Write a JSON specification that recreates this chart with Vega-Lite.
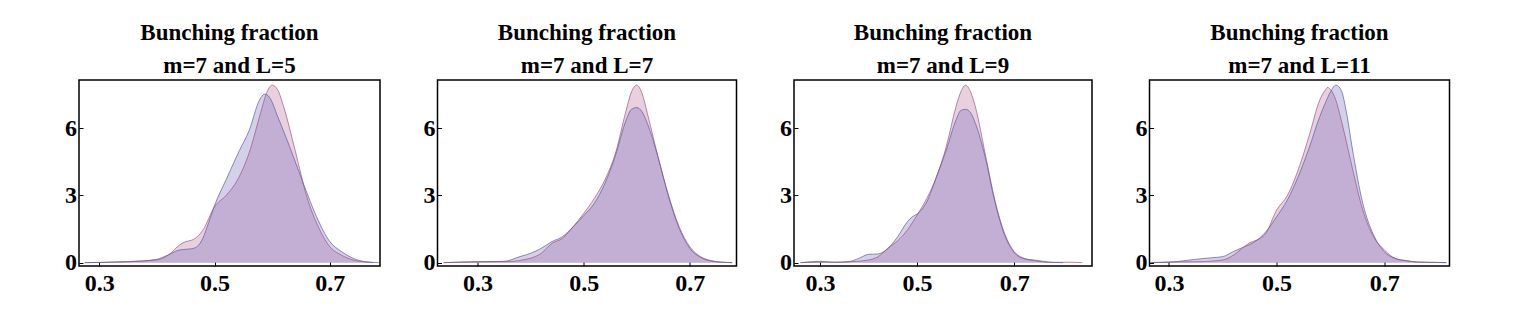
{
  "$schema": "https://vega.github.io/schema/vega-lite/v6.json",
  "background": "white",
  "padding": {"left": 63, "top": 21, "right": 5, "bottom": 5},
  "bounds": "flush",
  "spacing": 57.5,
  "config": {
    "view": {"stroke": "black", "strokeWidth": 1.5},
    "font": "Liberation Serif",
    "title": {"font": "Liberation Serif", "fontSize": 23, "fontWeight": "bold", "lineHeight": 33, "color": "black", "offset": 2},
    "axis": {"labelFont": "Liberation Serif", "labelFontSize": 24, "labelFontWeight": "bold", "labelColor": "black", "grid": false, "domain": false, "tickColor": "black", "tickSize": -4, "tickWidth": 1, "title": null, "labelFlush": false},
    "axisX": {"labelPadding": 9},
    "axisY": {"labelPadding": 6.5}
  },
  "datasets": {
    "d": [
      {"p":1,"s":"A","x":0.275,"y":0},{"p":1,"s":"A","x":0.30,"y":0.01},{"p":1,"s":"A","x":0.35,"y":0.05},{"p":1,"s":"A","x":0.40,"y":0.12},{"p":1,"s":"A","x":0.42,"y":0.34},{"p":1,"s":"A","x":0.44,"y":0.8},{"p":1,"s":"A","x":0.45,"y":0.94},{"p":1,"s":"A","x":0.46,"y":1.0},{"p":1,"s":"A","x":0.47,"y":1.16},{"p":1,"s":"A","x":0.48,"y":1.46},{"p":1,"s":"A","x":0.50,"y":2.5},{"p":1,"s":"A","x":0.52,"y":3.0},{"p":1,"s":"A","x":0.54,"y":3.7},{"p":1,"s":"A","x":0.56,"y":4.9},{"p":1,"s":"A","x":0.58,"y":6.7},{"p":1,"s":"A","x":0.59,"y":7.56},{"p":1,"s":"A","x":0.60,"y":7.93},{"p":1,"s":"A","x":0.61,"y":7.7},{"p":1,"s":"A","x":0.62,"y":6.96},{"p":1,"s":"A","x":0.64,"y":5.0},{"p":1,"s":"A","x":0.66,"y":2.95},{"p":1,"s":"A","x":0.68,"y":1.6},{"p":1,"s":"A","x":0.70,"y":0.71},{"p":1,"s":"A","x":0.72,"y":0.34},{"p":1,"s":"A","x":0.74,"y":0.12},{"p":1,"s":"A","x":0.76,"y":0.03},{"p":1,"s":"A","x":0.775,"y":0},
      {"p":1,"s":"B","x":0.275,"y":0},{"p":1,"s":"B","x":0.30,"y":0.01},{"p":1,"s":"B","x":0.35,"y":0.04},{"p":1,"s":"B","x":0.40,"y":0.15},{"p":1,"s":"B","x":0.42,"y":0.35},{"p":1,"s":"B","x":0.44,"y":0.57},{"p":1,"s":"B","x":0.46,"y":0.62},{"p":1,"s":"B","x":0.47,"y":0.72},{"p":1,"s":"B","x":0.48,"y":1.1},{"p":1,"s":"B","x":0.49,"y":1.8},{"p":1,"s":"B","x":0.50,"y":2.55},{"p":1,"s":"B","x":0.52,"y":3.7},{"p":1,"s":"B","x":0.543,"y":5.0},{"p":1,"s":"B","x":0.56,"y":5.9},{"p":1,"s":"B","x":0.578,"y":7.26},{"p":1,"s":"B","x":0.587,"y":7.53},{"p":1,"s":"B","x":0.595,"y":7.4},{"p":1,"s":"B","x":0.61,"y":6.5},{"p":1,"s":"B","x":0.63,"y":5.2},{"p":1,"s":"B","x":0.654,"y":3.54},{"p":1,"s":"B","x":0.677,"y":2.05},{"p":1,"s":"B","x":0.70,"y":0.94},{"p":1,"s":"B","x":0.72,"y":0.5},{"p":1,"s":"B","x":0.74,"y":0.2},{"p":1,"s":"B","x":0.76,"y":0.05},{"p":1,"s":"B","x":0.785,"y":0},

      {"p":2,"s":"A","x":0.236,"y":0},{"p":2,"s":"A","x":0.30,"y":0.04},{"p":2,"s":"A","x":0.35,"y":0.04},{"p":2,"s":"A","x":0.40,"y":0.2},{"p":2,"s":"A","x":0.42,"y":0.42},{"p":2,"s":"A","x":0.44,"y":0.86},{"p":2,"s":"A","x":0.46,"y":1.09},{"p":2,"s":"A","x":0.48,"y":1.6},{"p":2,"s":"A","x":0.50,"y":2.2},{"p":2,"s":"A","x":0.52,"y":2.87},{"p":2,"s":"A","x":0.54,"y":3.7},{"p":2,"s":"A","x":0.56,"y":4.9},{"p":2,"s":"A","x":0.58,"y":6.8},{"p":2,"s":"A","x":0.59,"y":7.63},{"p":2,"s":"A","x":0.60,"y":7.93},{"p":2,"s":"A","x":0.61,"y":7.56},{"p":2,"s":"A","x":0.62,"y":6.67},{"p":2,"s":"A","x":0.64,"y":4.73},{"p":2,"s":"A","x":0.66,"y":3.0},{"p":2,"s":"A","x":0.68,"y":1.6},{"p":2,"s":"A","x":0.70,"y":0.71},{"p":2,"s":"A","x":0.72,"y":0.27},{"p":2,"s":"A","x":0.74,"y":0.09},{"p":2,"s":"A","x":0.76,"y":0.02},{"p":2,"s":"A","x":0.78,"y":0},
      {"p":2,"s":"B","x":0.236,"y":0},{"p":2,"s":"B","x":0.30,"y":0.04},{"p":2,"s":"B","x":0.35,"y":0.06},{"p":2,"s":"B","x":0.38,"y":0.27},{"p":2,"s":"B","x":0.40,"y":0.42},{"p":2,"s":"B","x":0.42,"y":0.64},{"p":2,"s":"B","x":0.44,"y":0.94},{"p":2,"s":"B","x":0.46,"y":1.16},{"p":2,"s":"B","x":0.48,"y":1.6},{"p":2,"s":"B","x":0.50,"y":2.1},{"p":2,"s":"B","x":0.52,"y":2.65},{"p":2,"s":"B","x":0.54,"y":3.54},{"p":2,"s":"B","x":0.56,"y":4.8},{"p":2,"s":"B","x":0.58,"y":6.37},{"p":2,"s":"B","x":0.59,"y":6.85},{"p":2,"s":"B","x":0.60,"y":6.93},{"p":2,"s":"B","x":0.61,"y":6.74},{"p":2,"s":"B","x":0.62,"y":6.22},{"p":2,"s":"B","x":0.64,"y":4.73},{"p":2,"s":"B","x":0.66,"y":2.95},{"p":2,"s":"B","x":0.68,"y":1.53},{"p":2,"s":"B","x":0.70,"y":0.64},{"p":2,"s":"B","x":0.72,"y":0.24},{"p":2,"s":"B","x":0.74,"y":0.07},{"p":2,"s":"B","x":0.76,"y":0.02},{"p":2,"s":"B","x":0.78,"y":0},

      {"p":3,"s":"A","x":0.26,"y":0},{"p":3,"s":"A","x":0.30,"y":0.02},{"p":3,"s":"A","x":0.35,"y":0.03},{"p":3,"s":"A","x":0.40,"y":0.12},{"p":3,"s":"A","x":0.42,"y":0.27},{"p":3,"s":"A","x":0.44,"y":0.64},{"p":3,"s":"A","x":0.46,"y":0.98},{"p":3,"s":"A","x":0.48,"y":1.46},{"p":3,"s":"A","x":0.50,"y":2.13},{"p":3,"s":"A","x":0.52,"y":2.87},{"p":3,"s":"A","x":0.54,"y":3.84},{"p":3,"s":"A","x":0.56,"y":5.18},{"p":3,"s":"A","x":0.58,"y":6.96},{"p":3,"s":"A","x":0.59,"y":7.63},{"p":3,"s":"A","x":0.60,"y":7.93},{"p":3,"s":"A","x":0.61,"y":7.63},{"p":3,"s":"A","x":0.62,"y":6.96},{"p":3,"s":"A","x":0.64,"y":4.88},{"p":3,"s":"A","x":0.66,"y":2.8},{"p":3,"s":"A","x":0.68,"y":1.31},{"p":3,"s":"A","x":0.70,"y":0.49},{"p":3,"s":"A","x":0.72,"y":0.19},{"p":3,"s":"A","x":0.74,"y":0.09},{"p":3,"s":"A","x":0.76,"y":0.03},{"p":3,"s":"A","x":0.78,"y":0.01},{"p":3,"s":"A","x":0.81,"y":0.02},{"p":3,"s":"A","x":0.84,"y":0},
      {"p":3,"s":"B","x":0.26,"y":0},{"p":3,"s":"B","x":0.30,"y":0.06},{"p":3,"s":"B","x":0.33,"y":0.01},{"p":3,"s":"B","x":0.36,"y":0.05},{"p":3,"s":"B","x":0.38,"y":0.19},{"p":3,"s":"B","x":0.40,"y":0.37},{"p":3,"s":"B","x":0.42,"y":0.39},{"p":3,"s":"B","x":0.44,"y":0.64},{"p":3,"s":"B","x":0.46,"y":1.16},{"p":3,"s":"B","x":0.48,"y":1.83},{"p":3,"s":"B","x":0.49,"y":2.05},{"p":3,"s":"B","x":0.50,"y":2.17},{"p":3,"s":"B","x":0.52,"y":2.72},{"p":3,"s":"B","x":0.54,"y":3.84},{"p":3,"s":"B","x":0.56,"y":5.03},{"p":3,"s":"B","x":0.58,"y":6.37},{"p":3,"s":"B","x":0.59,"y":6.8},{"p":3,"s":"B","x":0.60,"y":6.85},{"p":3,"s":"B","x":0.61,"y":6.7},{"p":3,"s":"B","x":0.62,"y":6.22},{"p":3,"s":"B","x":0.64,"y":4.73},{"p":3,"s":"B","x":0.66,"y":2.72},{"p":3,"s":"B","x":0.68,"y":1.24},{"p":3,"s":"B","x":0.70,"y":0.45},{"p":3,"s":"B","x":0.72,"y":0.18},{"p":3,"s":"B","x":0.74,"y":0.12},{"p":3,"s":"B","x":0.76,"y":0.06},{"p":3,"s":"B","x":0.78,"y":0.01},{"p":3,"s":"B","x":0.80,"y":0},

      {"p":4,"s":"A","x":0.265,"y":0},{"p":4,"s":"A","x":0.30,"y":0.03},{"p":4,"s":"A","x":0.35,"y":0.04},{"p":4,"s":"A","x":0.40,"y":0.12},{"p":4,"s":"A","x":0.42,"y":0.34},{"p":4,"s":"A","x":0.44,"y":0.71},{"p":4,"s":"A","x":0.45,"y":0.89},{"p":4,"s":"A","x":0.46,"y":0.98},{"p":4,"s":"A","x":0.48,"y":1.31},{"p":4,"s":"A","x":0.50,"y":2.35},{"p":4,"s":"A","x":0.52,"y":3.0},{"p":4,"s":"A","x":0.54,"y":4.14},{"p":4,"s":"A","x":0.56,"y":5.63},{"p":4,"s":"A","x":0.58,"y":7.26},{"p":4,"s":"A","x":0.59,"y":7.7},{"p":4,"s":"A","x":0.595,"y":7.83},{"p":4,"s":"A","x":0.60,"y":7.74},{"p":4,"s":"A","x":0.61,"y":7.26},{"p":4,"s":"A","x":0.62,"y":6.37},{"p":4,"s":"A","x":0.64,"y":4.29},{"p":4,"s":"A","x":0.66,"y":2.35},{"p":4,"s":"A","x":0.68,"y":1.16},{"p":4,"s":"A","x":0.70,"y":0.57},{"p":4,"s":"A","x":0.72,"y":0.19},{"p":4,"s":"A","x":0.74,"y":0.09},{"p":4,"s":"A","x":0.76,"y":0.03},{"p":4,"s":"A","x":0.80,"y":0.01},{"p":4,"s":"A","x":0.815,"y":0},
      {"p":4,"s":"B","x":0.265,"y":0},{"p":4,"s":"B","x":0.30,"y":0.02},{"p":4,"s":"B","x":0.35,"y":0.15},{"p":4,"s":"B","x":0.38,"y":0.22},{"p":4,"s":"B","x":0.40,"y":0.27},{"p":4,"s":"B","x":0.42,"y":0.5},{"p":4,"s":"B","x":0.44,"y":0.71},{"p":4,"s":"B","x":0.46,"y":0.94},{"p":4,"s":"B","x":0.48,"y":1.38},{"p":4,"s":"B","x":0.50,"y":2.05},{"p":4,"s":"B","x":0.52,"y":2.8},{"p":4,"s":"B","x":0.54,"y":3.84},{"p":4,"s":"B","x":0.56,"y":5.1},{"p":4,"s":"B","x":0.58,"y":6.52},{"p":4,"s":"B","x":0.59,"y":7.11},{"p":4,"s":"B","x":0.60,"y":7.63},{"p":4,"s":"B","x":0.61,"y":7.93},{"p":4,"s":"B","x":0.62,"y":7.7},{"p":4,"s":"B","x":0.63,"y":6.67},{"p":4,"s":"B","x":0.64,"y":5.18},{"p":4,"s":"B","x":0.66,"y":2.65},{"p":4,"s":"B","x":0.68,"y":1.24},{"p":4,"s":"B","x":0.70,"y":0.49},{"p":4,"s":"B","x":0.72,"y":0.19},{"p":4,"s":"B","x":0.74,"y":0.09},{"p":4,"s":"B","x":0.76,"y":0.03},{"p":4,"s":"B","x":0.79,"y":0.01},{"p":4,"s":"B","x":0.815,"y":0}
    ]
  },
  "hconcat": [
    {
      "width": 301, "height": 186,
      "title": {"text": ["Bunching fraction", "m=7 and L=5"]},
      "data": {"name": "d"},
      "transform": [{"filter": "datum.p == 1"}],
      "encoding": {
        "x": {"field": "x", "type": "quantitative", "scale": {"domain": [0.265, 0.787], "nice": false, "zero": false}, "axis": {"values": [0.3, 0.5, 0.7], "format": ".1f"}},
        "y": {"field": "y", "type": "quantitative", "stack": null, "scale": {"domain": [-0.15, 8.16], "nice": false, "zero": false}, "axis": {"values": [0, 3, 6], "format": "d"}}
      },
      "layer": [
        {"mark": {"type": "area", "interpolate": "monotone", "fillOpacity": 0.3, "clip": true},
         "encoding": {"fill": {"field": "s", "type": "nominal", "scale": {"domain": ["A", "B"], "range": ["#b46496", "#6e64be"]}, "legend": null}}},
        {"mark": {"type": "line", "interpolate": "monotone", "strokeWidth": 0.8, "strokeOpacity": 0.85, "clip": true},
         "encoding": {"stroke": {"field": "s", "type": "nominal", "scale": {"domain": ["A", "B"], "range": ["#9a5080", "#5858a0"]}, "legend": null}}}
      ]
    },
    {
      "width": 299, "height": 186,
      "title": {"text": ["Bunching fraction", "m=7 and L=7"]},
      "data": {"name": "d"},
      "transform": [{"filter": "datum.p == 2"}],
      "encoding": {
        "x": {"field": "x", "type": "quantitative", "scale": {"domain": [0.2245, 0.788], "nice": false, "zero": false}, "axis": {"values": [0.3, 0.5, 0.7], "format": ".1f"}},
        "y": {"field": "y", "type": "quantitative", "stack": null, "scale": {"domain": [-0.15, 8.16], "nice": false, "zero": false}, "axis": {"values": [0, 3, 6], "format": "d"}}
      },
      "layer": [
        {"mark": {"type": "area", "interpolate": "monotone", "fillOpacity": 0.3, "clip": true},
         "encoding": {"fill": {"field": "s", "type": "nominal", "scale": {"domain": ["A", "B"], "range": ["#b46496", "#6e64be"]}, "legend": null}}},
        {"mark": {"type": "line", "interpolate": "monotone", "strokeWidth": 0.8, "strokeOpacity": 0.85, "clip": true},
         "encoding": {"stroke": {"field": "s", "type": "nominal", "scale": {"domain": ["A", "B"], "range": ["#9a5080", "#5858a0"]}, "legend": null}}}
      ]
    },
    {
      "width": 298, "height": 186,
      "title": {"text": ["Bunching fraction", "m=7 and L=9"]},
      "data": {"name": "d"},
      "transform": [{"filter": "datum.p == 3"}],
      "encoding": {
        "x": {"field": "x", "type": "quantitative", "scale": {"domain": [0.2466, 0.86], "nice": false, "zero": false}, "axis": {"values": [0.3, 0.5, 0.7], "format": ".1f"}},
        "y": {"field": "y", "type": "quantitative", "stack": null, "scale": {"domain": [-0.15, 8.16], "nice": false, "zero": false}, "axis": {"values": [0, 3, 6], "format": "d"}}
      },
      "layer": [
        {"mark": {"type": "area", "interpolate": "monotone", "fillOpacity": 0.3, "clip": true},
         "encoding": {"fill": {"field": "s", "type": "nominal", "scale": {"domain": ["A", "B"], "range": ["#b46496", "#6e64be"]}, "legend": null}}},
        {"mark": {"type": "line", "interpolate": "monotone", "strokeWidth": 0.8, "strokeOpacity": 0.85, "clip": true},
         "encoding": {"stroke": {"field": "s", "type": "nominal", "scale": {"domain": ["A", "B"], "range": ["#9a5080", "#5858a0"]}, "legend": null}}}
      ]
    },
    {
      "width": 300, "height": 186,
      "title": {"text": ["Bunching fraction", "m=7 and L=11"]},
      "data": {"name": "d"},
      "transform": [{"filter": "datum.p == 4"}],
      "encoding": {
        "x": {"field": "x", "type": "quantitative", "scale": {"domain": [0.264, 0.821], "nice": false, "zero": false}, "axis": {"values": [0.3, 0.5, 0.7], "format": ".1f"}},
        "y": {"field": "y", "type": "quantitative", "stack": null, "scale": {"domain": [-0.15, 8.16], "nice": false, "zero": false}, "axis": {"values": [0, 3, 6], "format": "d"}}
      },
      "layer": [
        {"mark": {"type": "area", "interpolate": "monotone", "fillOpacity": 0.3, "clip": true},
         "encoding": {"fill": {"field": "s", "type": "nominal", "scale": {"domain": ["A", "B"], "range": ["#b46496", "#6e64be"]}, "legend": null}}},
        {"mark": {"type": "line", "interpolate": "monotone", "strokeWidth": 0.8, "strokeOpacity": 0.85, "clip": true},
         "encoding": {"stroke": {"field": "s", "type": "nominal", "scale": {"domain": ["A", "B"], "range": ["#9a5080", "#5858a0"]}, "legend": null}}}
      ]
    }
  ]
}
